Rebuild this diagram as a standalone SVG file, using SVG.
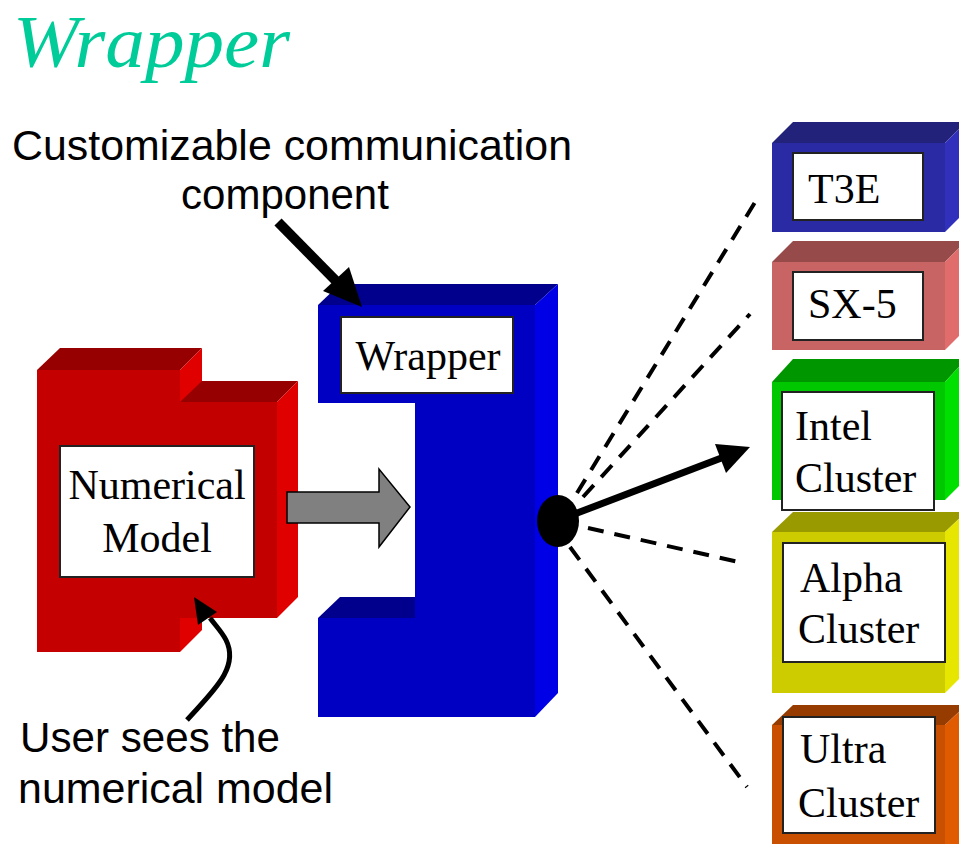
<svg xmlns="http://www.w3.org/2000/svg" width="959" height="844" viewBox="0 0 959 844">
<style>
.serif{font-family:"Liberation Serif","Times New Roman",serif;font-size:42px;fill:#000}
.sans{font-family:"Liberation Sans",Arial,sans-serif;font-size:42px;fill:#000}
.lbl{fill:#fff;stroke:#222;stroke-width:2}
.dash{stroke:#000;stroke-width:4;stroke-dasharray:16 11;fill:none}
</style>
<rect width="959" height="844" fill="#fff"/>
<text x="13" y="67" font-family="Liberation Serif,'Times New Roman',serif" font-style="italic" font-size="75" fill="#00CC99" textLength="277" lengthAdjust="spacingAndGlyphs">Wrapper</text>
<text class="sans" x="12" y="160" textLength="560" lengthAdjust="spacingAndGlyphs">Customizable communication</text>
<text class="sans" x="285" y="209" text-anchor="middle">component</text>
<text class="sans" x="20" y="752" textLength="260" lengthAdjust="spacingAndGlyphs">User sees the</text>
<text class="sans" x="18" y="803" textLength="315" lengthAdjust="spacingAndGlyphs">numerical model</text>

<g id="numerical-model">
  <polygon points="37,370 60,348 202,348 180,370" fill="#960000"/>
  <polygon points="180,370 202,348 202,630 180,652" fill="#E00000"/>
  <rect x="37" y="370" width="143" height="282" fill="#C40000"/>
  <polygon points="180,402 202,381 298,381 277,402" fill="#960000"/>
  <polygon points="277,402 298,381 298,597 277,618" fill="#E00000"/>
  <rect x="180" y="402" width="97" height="216" fill="#C20000"/>
  <rect class="lbl" x="60" y="446" width="194" height="131"/>
  <text class="serif" x="157" y="499" text-anchor="middle">Numerical</text>
  <text class="serif" x="157" y="552" text-anchor="middle">Model</text>
</g>

<g id="wrapper">
  <polygon points="318,305 340,284 558,284 535,305" fill="#00008C"/>
  <polygon points="535,305 558,284 558,693 535,717" fill="#0000E6"/>
  <polygon points="318,305 535,305 535,717 318,717 318,618 415,618 415,403 318,403" fill="#0000C2"/>
  <polygon points="318,618 340,597 415,597 415,618" fill="#00008C"/>
  <rect class="lbl" x="341" y="317" width="172" height="76"/>
  <text class="serif" x="428" y="370" text-anchor="middle">Wrapper</text>
</g>

<g id="t3e">
  <polygon points="772,143 793,122 966,122 945,143" fill="#22227A"/>
  <polygon points="945,143 966,122 966,211 945,232" fill="#3030BC"/>
  <rect x="772" y="143" width="173" height="89" fill="#2A2AA4"/>
  <rect class="lbl" x="793" y="153" width="130" height="67"/>
  <text class="serif" x="808" y="203">T3E</text>
</g>
<g id="sx5">
  <polygon points="772,262 793,241 966,241 945,262" fill="#964A4A"/>
  <polygon points="945,262 966,241 966,329 945,350" fill="#E06C6C"/>
  <rect x="772" y="262" width="173" height="88" fill="#C86464"/>
  <rect class="lbl" x="793" y="272" width="130" height="68"/>
  <text class="serif" x="808" y="318">SX-5</text>
</g>
<g id="intel">
  <polygon points="772,382 793,359 966,359 945,382" fill="#009600"/>
  <polygon points="945,382 966,359 966,479 945,500" fill="#00E000"/>
  <rect x="772" y="382" width="173" height="118" fill="#00C800"/>
  <rect class="lbl" x="782" y="392" width="152" height="118"/>
  <text class="serif" x="795" y="440">Intel</text>
  <text class="serif" x="795" y="492">Cluster</text>
</g>
<g id="alpha">
  <polygon points="772,532 793,512 966,512 945,532" fill="#999900"/>
  <polygon points="945,532 966,512 966,672 945,693" fill="#E6E600"/>
  <rect x="772" y="532" width="173" height="161" fill="#CCCC00"/>
  <rect class="lbl" x="783" y="543" width="162" height="119"/>
  <text class="serif" x="800" y="592">Alpha</text>
  <text class="serif" x="798" y="643">Cluster</text>
</g>
<g id="ultra">
  <polygon points="772,725 793,705 966,705 945,725" fill="#963C00"/>
  <polygon points="945,725 966,705 966,844 945,844" fill="#E05A00"/>
  <rect x="772" y="725" width="173" height="119" fill="#C85000"/>
  <rect class="lbl" x="783" y="717" width="152" height="116"/>
  <text class="serif" x="800" y="763">Ultra</text>
  <text class="serif" x="798" y="817">Cluster</text>
</g>

<g id="connectors">
  <polygon points="287,492 379,492 379,469 410,507 379,547 379,523 287,523" fill="#808080" stroke="#000" stroke-width="1.5"/>
  <line x1="278" y1="222" x2="340" y2="285" stroke="#000" stroke-width="10"/>
  <polygon points="362,307 323,291 349,267" fill="#000"/>
  <path d="M187,720 C212,692 240,668 226,640 C222,632 216,626 210,618" fill="none" stroke="#000" stroke-width="5"/>
  <polygon points="194,597 217,612 198,625" fill="#000"/>
  <line class="dash" x1="577" y1="493" x2="757" y2="199"/>
  <line class="dash" x1="583" y1="497" x2="750" y2="314"/>
  <line class="dash" x1="588" y1="528" x2="743" y2="563"/>
  <line class="dash" x1="570" y1="547" x2="747" y2="787"/>
  <line x1="572" y1="515" x2="724" y2="457" stroke="#000" stroke-width="7"/>
  <polygon points="750,447 715,444 726,473" fill="#000"/>
  <ellipse cx="558" cy="521" rx="21" ry="26" fill="#000"/>
</g>
</svg>
